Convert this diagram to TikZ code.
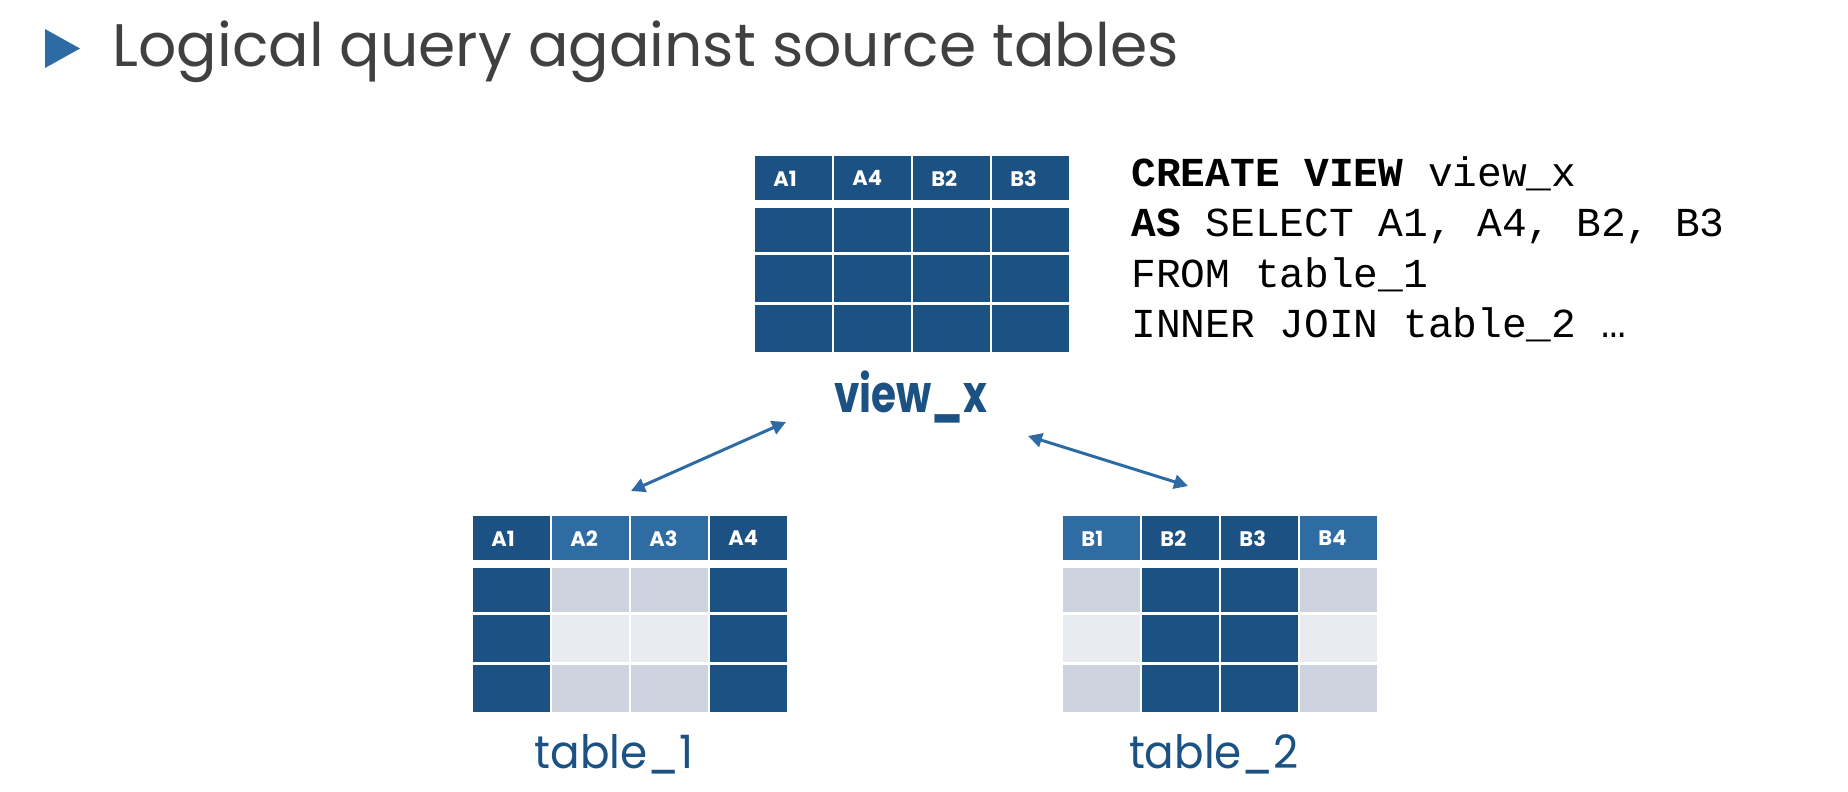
\documentclass[tikz,border=0pt]{standalone}
\usepackage{fontspec}
\setmainfont{Poppins}
\newfontfamily\codefont{Liberation Mono}
\usetikzlibrary{arrows.meta}
\definecolor{dk}{HTML}{1B5283}
\definecolor{md}{HTML}{2F6CA3}
\definecolor{gy}{HTML}{CDD4DF}
\definecolor{lg}{HTML}{E8EBF0}
\definecolor{ttl}{HTML}{404040}
\definecolor{arr}{HTML}{2E6BA4}
\newcommand\mytable[4]{%
  \foreach \lab/\hc/\ca/\cb/\cc [count=\i] in {#4} {
    \pgfmathsetmacro\xx{#2+(\i-1)*79}
    \node[hcell, fill=\hc] (#1-h\i) at (\xx,#3) {\lab};
    \node[bcell, minimum height=22pt, fill=\ca] (#1-a\i) at (\xx,#3+52) {};
    \node[bcell, minimum height=23.5pt, fill=\cb] (#1-b\i) at (\xx,#3+99) {};
    \node[bcell, minimum height=23.5pt, fill=\cc] (#1-c\i) at (\xx,#3+149) {};
  }}
\begin{document}
\begin{tikzpicture}[x=0.5pt,y=-0.5pt,
  hcell/.style={rectangle, anchor=north west, inner xsep=9pt, inner ysep=0pt,
    text width=20.25pt, align=left, minimum height=22pt, text=white,
    font=\fontsize{10.5}{12}\selectfont\bfseries},
  bcell/.style={rectangle, anchor=north west, inner sep=0pt, minimum width=38.25pt},
  captxt/.style={text=dk, anchor=base, inner sep=0pt},
  code/.style={anchor=base west, inner sep=0pt, font=\codefont\fontsize{20.6}{24}\selectfont},
  link/.style={arr, line width=1.5pt, {Triangle[length=7pt,width=7pt]}-{Triangle[length=7pt,width=7pt]}}
]
\useasboundingbox (0,0) rectangle (1848,792);
% title
\fill[arr] (45,29) -- (80,48.5) -- (45,68) -- cycle;
\node[anchor=base west, inner sep=0pt, text=ttl, font=\fontsize{30}{36}\selectfont] (title) at (112,67) {Logical query against source tables};
% tables
\mytable{v}{755}{156}{A1/dk/dk/dk/dk, A4/dk/dk/dk/dk, B2/dk/dk/dk/dk, B3/dk/dk/dk/dk}
\mytable{t}{473}{516}{A1/dk/dk/dk/dk, A2/md/gy/lg/gy, A3/md/gy/lg/gy, A4/dk/dk/dk/dk}
\mytable{u}{1063}{516}{B1/md/gy/lg/gy, B2/dk/dk/dk/dk, B3/dk/dk/dk/dk, B4/md/gy/lg/gy}
% captions
\node[captxt, font=\fontsize{26}{31}\selectfont\bfseries] (vx) at (911,412) {\scalebox{0.78}[1]{view\_x}};
\node[captxt, font=\fontsize{23}{28}\selectfont] (t1) at (614,768) {\scalebox{0.95}[1]{table\_1}};
\node[captxt, font=\fontsize{23}{28}\selectfont] (t2) at (1214,768) {\scalebox{0.95}[1]{table\_2}};
% SQL
\node[code] (q1) at (1131,186) {\textbf{CREATE VIEW} view\_x};
\node[code] (q2) at (1131,236) {\textbf{AS} SELECT A1, A4, B2, B3};
\node[code] (q3) at (1131,287) {FROM table\_1};
\node[code] (q4) at (1131,337) {INNER JOIN table\_2 …};
% connectors
\coordinate (la) at (631,491);
\coordinate (lb) at (786,422);
\coordinate (ra) at (1028,436);
\coordinate (rb) at (1188,486);
\draw[link] (la) -- (lb);
\draw[link] (ra) -- (rb);
\end{tikzpicture}
\end{document}
